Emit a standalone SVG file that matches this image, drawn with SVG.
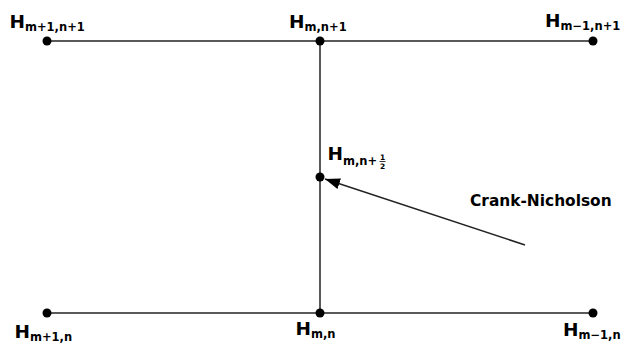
<svg xmlns="http://www.w3.org/2000/svg" width="622" height="343" viewBox="0 0 622 343">
<style>
.ln{stroke:#222;stroke-width:1.5;fill:none}
.dot{fill:#000}
text{font-family:"DejaVu Sans",sans-serif;font-weight:bold;fill:#000}
.H{font-size:18.5px}
.s{font-size:11.5px}
.fr{font-size:7.5px}
</style>
<defs>
<marker id="ah" markerWidth="16" markerHeight="12" refX="15" refY="5.5" orient="auto" markerUnits="userSpaceOnUse">
<path d="M0,0 L15,5.5 L0,11 Z" fill="#000"/>
</marker>
</defs>
<rect width="622" height="343" fill="#fff"/>
<g id="connectors">
<line class="ln" x1="47" y1="41" x2="593" y2="41"/>
<line class="ln" x1="47" y1="313" x2="593" y2="313"/>
<line class="ln" x1="320" y1="41" x2="320" y2="313"/>
<line class="ln" x1="525" y1="245" x2="325" y2="179" marker-end="url(#ah)"/>
</g>
<g id="n1"><circle class="dot" cx="47" cy="41" r="4.5"/><text x="9.5" y="27.5"><tspan class="H">H</tspan><tspan class="s" dy="3.5">m+1,n+1</tspan></text></g>
<g id="n2"><circle class="dot" cx="320" cy="41" r="4.5"/><text x="289" y="27.5"><tspan class="H">H</tspan><tspan class="s" dy="3.5">m,n+1</tspan></text></g>
<g id="n3"><circle class="dot" cx="593" cy="41" r="4.5"/><text x="545" y="26.5"><tspan class="H">H</tspan><tspan class="s" dy="3.5">m−1,n+1</tspan></text></g>
<g id="n4"><circle class="dot" cx="320" cy="177" r="4.5"/><text x="327.5" y="160"><tspan class="H">H</tspan><tspan class="s" dy="4.5">m,n+</tspan></text>
<text class="fr" x="382.5" y="159.5" text-anchor="middle">1</text><line x1="379.5" y1="161.5" x2="385.5" y2="161.5" stroke="#000" stroke-width="0.8"/><text class="fr" x="382.5" y="168.5" text-anchor="middle">2</text></g>
<g id="n5"><circle class="dot" cx="47" cy="313" r="4.5"/><text x="14.5" y="338"><tspan class="H">H</tspan><tspan class="s" dy="3">m+1,n</tspan></text></g>
<g id="n6"><circle class="dot" cx="320" cy="313" r="4.5"/><text x="295.5" y="334.5"><tspan class="H">H</tspan><tspan class="s" dy="3">m,n</tspan></text></g>
<g id="n7"><circle class="dot" cx="593" cy="313" r="4.5"/><text x="563" y="336"><tspan class="H">H</tspan><tspan class="s" dy="3">m−1,n</tspan></text></g>
<g id="label"><text x="470" y="206" style="font-size:15.4px">Crank-Nicholson</text></g>
</svg>
